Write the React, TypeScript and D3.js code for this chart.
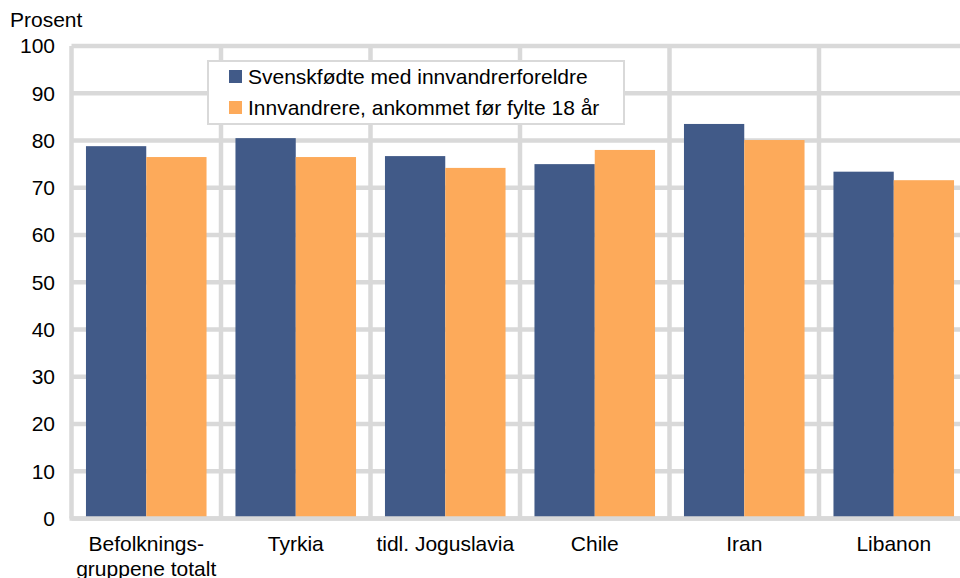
import React from "react";
import * as d3 from "d3";

const categories = ["Befolknings-\ngruppene totalt", "Tyrkia", "tidl. Joguslavia", "Chile", "Iran", "Libanon"];
const seriesNames = ["Svenskfødte med innvandrerforeldre", "Innvandrere, ankommet før fylte 18 år"];
const svenskfodte = [78.8, 80.5, 76.7, 75.0, 83.5, 73.4];
const innvandrere = [76.5, 76.5, 74.2, 78.0, 80.1, 71.6];
const yTicks = [0, 10, 20, 30, 40, 50, 60, 70, 80, 90, 100];
const colors = ["#415a88", "#fdaa5a"];

export default function App() {
  const W = 960, H = 578;
  const left = 71.5, right = 968.5, top = 46, bottom = 518.5;
  const x = d3.scaleBand<string>().domain(categories).range([left, right]).paddingInner(0).paddingOuter(0);
  const y = d3.scaleLinear().domain([0, 100]).range([bottom, top]);
  const inner = d3.scaleBand<number>().domain([0, 1]).range([0, x.bandwidth()]).paddingOuter(0.24);
  const grid = "#d9d9d9";
  const font = "Liberation Sans, Arial, sans-serif";
  const fs = 21;
  const series = [svenskfodte, innvandrere];
  return (
    <svg width={W} height={H} style={{ position: "absolute", left: 0, top: 0 }} fontFamily={font}>
      <rect width={W} height={H} fill="#fff" />
      {yTicks.map((t) => (
        <line key={"h" + t} x1={left} x2={right} y1={y(t)} y2={y(t)} stroke={grid} strokeWidth={4.5} />
      ))}
      {categories.map((c, i) => (
        <line key={"v" + i} x1={x(c)!} x2={x(c)!} y1={top} y2={bottom} stroke={grid} strokeWidth={4.5} />
      ))}
      <line x1={right} x2={right} y1={top} y2={bottom} stroke={grid} strokeWidth={4.5} />
      {series.map((vals, s) =>
        categories.map((c, i) => (
          <rect key={s + "-" + i} x={x(c)! + inner(s)!} width={inner.bandwidth()} y={y(vals[i])} height={y(0) - y(vals[i])} fill={colors[s]} />
        ))
      )}
      <line x1={left - 2} x2={right} y1={y(0)} y2={y(0)} stroke={grid} strokeWidth={4.5} />
      {yTicks.map((t) => (
        <text key={"t" + t} x={55} y={y(t)} dy="0.35em" textAnchor="end" fontSize={fs} fill="#000">{t}</text>
      ))}
      <text x={10} y={27} fontSize={fs} fill="#000">Prosent</text>
      {categories.map((c, i) => {
        const lines = c.split("\n");
        return (
          <text key={"c" + i} x={x(c)! + x.bandwidth() / 2} y={551} textAnchor="middle" fontSize={fs} fill="#000">
            {lines.map((l, k) => (
              <tspan key={k} x={x(c)! + x.bandwidth() / 2} dy={k === 0 ? 0 : 25}>{l}</tspan>
            ))}
          </text>
        );
      })}
      <rect x={208} y={61} width={416} height={63} fill="#fff" stroke={grid} strokeWidth={2} />
      {seriesNames.map((n, s) => (
        <g key={"l" + s}>
          <rect x={229} y={70 + s * 31} width={13} height={13} fill={colors[s]} />
          <text x={248} y={77 + s * 31} dy="0.35em" fontSize={fs} fill="#000">{n}</text>
        </g>
      ))}
    </svg>
  );
}
